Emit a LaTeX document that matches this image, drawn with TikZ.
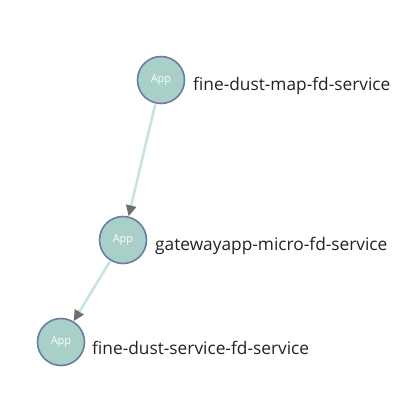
\documentclass[tikz,border=0pt]{standalone}
\usepackage{fontspec}
\setmainfont{Open Sans}
\usetikzlibrary{arrows.meta}
\definecolor{nodefill}{HTML}{A8CFC8}
\definecolor{nodeline}{HTML}{6B7BA4}
\definecolor{edgecol}{HTML}{C8E4DE}
\definecolor{tipcol}{HTML}{6E6E6E}
\definecolor{labcol}{HTML}{222222}
\tikzset{
  app/.style={circle, draw=nodeline, fill=nodefill, line width=1.6pt, minimum size=47pt, inner sep=0pt, text=white, font=\fontsize{11}{11}\selectfont},
  lab/.style={anchor=west, text=labcol, inner sep=0pt, font=\fontsize{17.3}{17}\selectfont},
  edge/.style={draw=edgecol, line width=2.6pt, shorten >=0pt, -{Triangle[length=11pt,width=10pt,fill=tipcol,color=tipcol]}}
}
\begin{document}
\begin{tikzpicture}[x=1pt,y=-1pt]
\useasboundingbox (0,0) rectangle (403,416);
\node[app] (a) at (161,80) {App};
\node[app] (b) at (123,240) {App};
\node[app] (c) at (61,342) {App};
\node[lab] (la) at (193,86) {fine-dust-map-fd-service};
\node[lab] (lb) at (155,246) {gatewayapp-micro-fd-service};
\node[lab] (lc) at (92,348) {fine-dust-service-fd-service};
\draw[edge] (a) -- (b);
\draw[edge] (b) -- (c);
\end{tikzpicture}
\end{document}
